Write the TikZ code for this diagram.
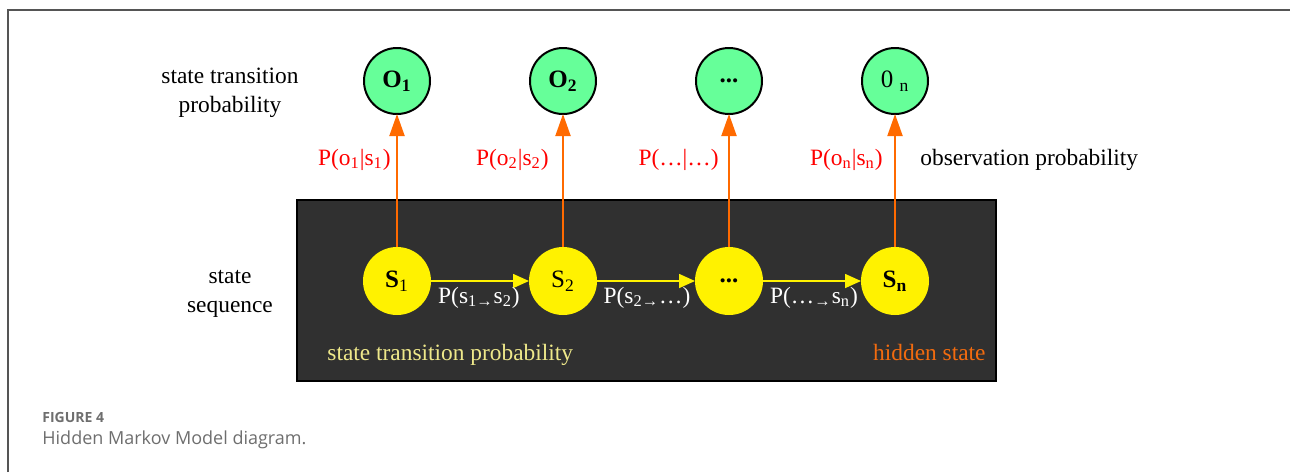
\documentclass[tikz,border=0pt]{standalone}
\usepackage{fontspec}
\setmainfont{Liberation Serif}
\newfontfamily\capfont{Open Sans}
\usetikzlibrary{positioning,arrows.meta}

\definecolor{obsgreen}{HTML}{66FF99}
\definecolor{hidgray}{HTML}{303030}
\definecolor{emitorange}{HTML}{FF6A00}
\definecolor{hidorange}{HTML}{F26B0F}
\definecolor{paleyellow}{HTML}{EEE88A}
\definecolor{capgray}{HTML}{6E6E6E}
\definecolor{framegray}{HTML}{555555}

\begin{document}
\begin{tikzpicture}[
  x=0.5pt,y=-0.5pt,
  font=\fontsize{11.7}{14.5}\selectfont,
  obs/.style={circle,draw=black,line width=1pt,fill=obsgreen,minimum size=33pt,inner sep=0pt,outer sep=0pt,font=\fontsize{12.5}{14}\selectfont},
  hid/.style={circle,fill=yellow,minimum size=34pt,inner sep=0pt,outer sep=0pt,font=\fontsize{12.5}{14}\selectfont},
  hidbox/.style={draw=black,line width=0.8pt,fill=hidgray,minimum width=349.5pt,minimum height=90.5pt,inner sep=0pt},
  side/.style={align=center,inner sep=0pt},
  plab/.style={text=red,inner sep=0pt},
  tlab/.style={text=white,inner sep=0pt},
  captxt/.style={text=capgray,inner sep=0pt,anchor=base west},
  emit/.style={-{Triangle[length=11pt,width=7.5pt]},emitorange,line width=1pt},
  trans/.style={-{Triangle[length=8pt,width=7pt]},yellow,line width=0.8pt},
]
\useasboundingbox (0,0) rectangle (1290,472);
% page frame
\draw[framegray,line width=1pt] (8,472) -- (8,10) -- (1290,10);
% hidden layer
\node[hidbox] (hidden) at (646.5,290.5) {};
\node[hid] (s1) at (397,281) {\textbf{S}\textsubscript{1}};
\node[hid,right=49pt of s1] (s2) {S\textsubscript{2}};
\node[hid,right=49pt of s2] (s3) {\textbf{...}};
\node[hid,right=49pt of s3] (sn) {\textbf{S\textsubscript{n}}};
% observations
\node[obs,above=66.5pt of s1] (o1) {\textbf{O\textsubscript{1}}};
\node[obs,above=66.5pt of s2] (o2) {\textbf{O\textsubscript{2}}};
\node[obs,above=66.5pt of s3] (o3) {\textbf{...}};
\node[obs,above=66.5pt of sn] (on) {0 \textsubscript{n}};
% transitions
\draw[trans] (s1) -- (s2);
\draw[trans] (s2) -- (s3);
\draw[trans] (s3) -- (sn);
% emissions
\draw[emit] (s1) -- (o1);
\draw[emit] (s2) -- (o2);
\draw[emit] (s3) -- (o3);
\draw[emit] (sn) -- (on);
% probabilities
\node[plab,anchor=base east] (po1) at (391,165) {P(o\textsubscript{1}|s\textsubscript{1})};
\node[plab,anchor=base east] (po2) at (549,165) {P(o\textsubscript{2}|s\textsubscript{2})};
\node[plab,anchor=base east] (po3) at (719,165) {P(…|…)};
\node[plab,anchor=base east] (pon) at (883,165) {P(o\textsubscript{n}|s\textsubscript{n})};
\node[tlab,anchor=base] (ps1) at (479,303) {P(s\textsubscript{1→}s\textsubscript{2})};
\node[tlab,anchor=base] (ps2) at (647,303) {P(s\textsubscript{2→}…)};
\node[tlab,anchor=base] (ps3) at (814,303) {P(…\textsubscript{→}s\textsubscript{n})};
% side texts
\node[side,anchor=base] (stp) at (230,112) {state transition\\probability};
\node[side,anchor=base] (seq) at (230,312) {state\\sequence};
\node[inner sep=0pt,anchor=base west] (obsp) at (920,165) {observation probability};
\node[inner sep=0pt,anchor=base west,text=paleyellow] (trp) at (327,360) {state transition probability};
\node[inner sep=0pt,anchor=base east,text=hidorange] (hst) at (986,360) {hidden state};
% caption
\node[captxt,font=\capfont\fontsize{7}{8}\selectfont\bfseries] (fig) at (42,422) {FIGURE 4};
\node[captxt,font=\capfont\fontsize{9}{10}\selectfont] (title) at (42,444) {Hidden Markov Model diagram.};
\end{tikzpicture}
\end{document}
